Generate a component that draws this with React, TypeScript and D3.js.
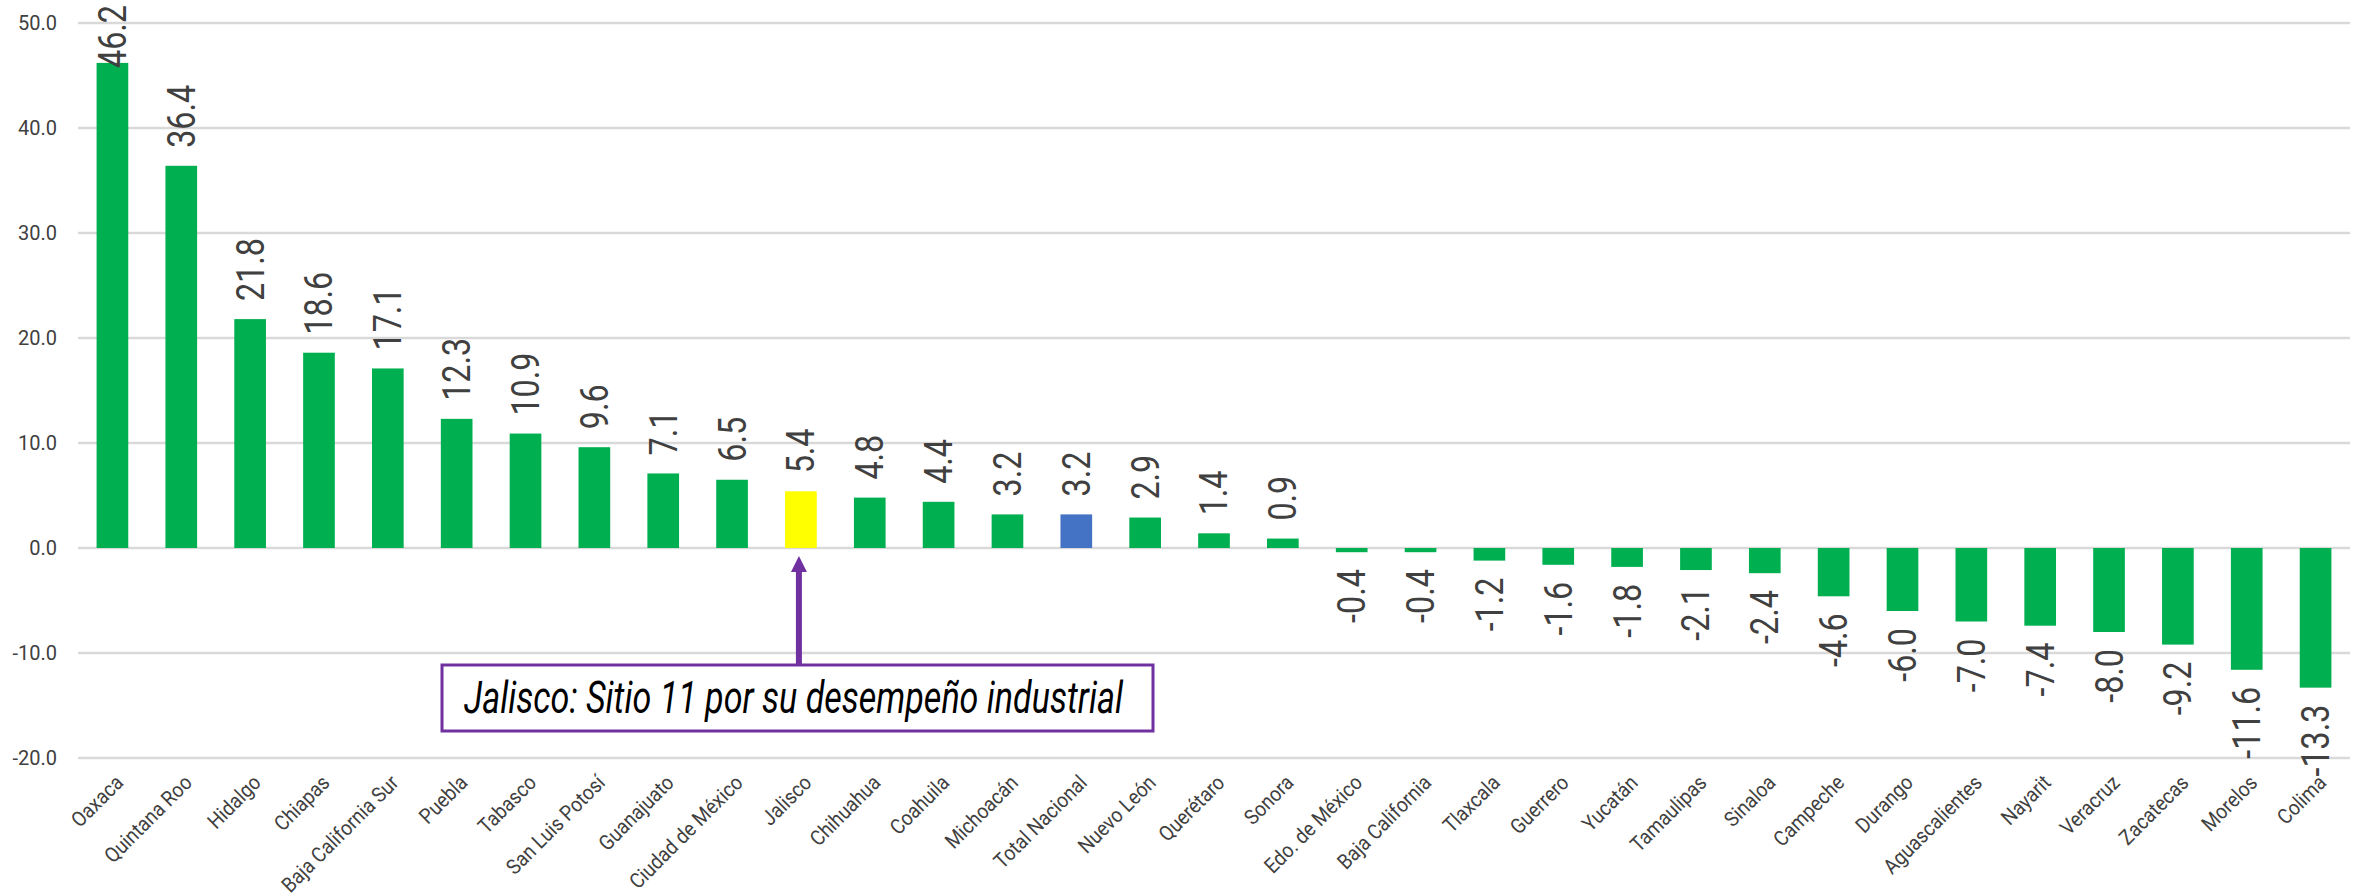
import React, { useEffect } from "react";
import * as d3 from "d3";

const categories: string[] = [
  "Oaxaca", "Quintana Roo", "Hidalgo", "Chiapas", "Baja California Sur", "Puebla",
  "Tabasco", "San Luis Potosí", "Guanajuato", "Ciudad de México", "Jalisco",
  "Chihuahua", "Coahuila", "Michoacán", "Total Nacional", "Nuevo León", "Querétaro",
  "Sonora", "Edo. de México", "Baja California", "Tlaxcala", "Guerrero", "Yucatán",
  "Tamaulipas", "Sinaloa", "Campeche", "Durango", "Aguascalientes", "Nayarit",
  "Veracruz", "Zacatecas", "Morelos", "Colima",
];

const values: number[] = [
  46.2, 36.4, 21.8, 18.6, 17.1, 12.3, 10.9, 9.6, 7.1, 6.5, 5.4, 4.8, 4.4, 3.2, 3.2,
  2.9, 1.4, 0.9, -0.4, -0.4, -1.2, -1.6, -1.8, -2.1, -2.4, -4.6, -6.0, -7.0, -7.4,
  -8.0, -9.2, -11.6, -13.3,
];

const yTicks: number[] = [-20, -10, 0, 10, 20, 30, 40, 50];

const highlightState = "Jalisco";
const nationalTotal = "Total Nacional";
const annotationText = "Jalisco: Sitio 11 por su desempeño industrial";

const W = 2364;
const H = 896;
const GREEN = "#00b050";
const YELLOW = "#ffff00";
const BLUE = "#4472c4";
const PURPLE = "#7030a0";
const TEXT = "#404040";

const fmt = (v: number) => v.toFixed(1);

export default function App() {
  useEffect(() => {
    document.body.style.margin = "0";
  }, []);

  const x = d3
    .scaleBand<string>()
    .domain(categories)
    .range([78, 2350])
    .paddingInner(0.54)
    .paddingOuter(0.27);
  const y = d3.scaleLinear().domain([-20, 50]).range([758, 23]);
  const bw = x.bandwidth();

  const labelFs = 38;
  const labelScale = 0.85;
  const plotTop = 5;

  const colorOf = (c: string) =>
    c === highlightState ? YELLOW : c === nationalTotal ? BLUE : GREEN;

  const jx = (x(highlightState) ?? 0) + bw / 2;
  const arrowTip = y(0) + 8;
  const boxX0 = 442;
  const boxX1 = 1153;
  const boxY0 = 665;
  const boxY1 = 731;

  return (
    <svg
      width={W}
      height={H}
      style={{ position: "absolute", left: 0, top: 0, display: "block", background: "#fff" }}
      fontFamily="Roboto, 'Noto Sans', sans-serif"
    >
      <rect x={0} y={0} width={W} height={H} fill="#fff" />
      {/* gridlines */}
      {yTicks.map((t) => (
        <line
          key={"g" + t}
          x1={78}
          x2={2350}
          y1={y(t)}
          y2={y(t)}
          stroke="#d9d9d9"
          strokeWidth={2.5}
        />
      ))}
      {/* y tick labels */}
      {yTicks.map((t) => (
        <text
          key={"t" + t}
          x={57}
          y={y(t) + 7}
          textAnchor="end"
          fontSize={20}
          fill={TEXT}
        >
          {fmt(t)}
        </text>
      ))}
      {/* bars */}
      {categories.map((c, i) => {
        const v = values[i];
        const x0 = x(c) ?? 0;
        return (
          <rect
            key={"b" + c}
            x={x0}
            y={Math.min(y(v), y(0))}
            width={bw}
            height={Math.abs(y(v) - y(0))}
            fill={colorOf(c)}
          />
        );
      })}
      {/* data labels */}
      {categories.map((c, i) => {
        const v = values[i];
        const cx = (x(c) ?? 0) + bw / 2 + labelFs * 0.355;
        const txt = fmt(v);
        const est = txt.length * 16;
        let ly: number;
        let anchor: "start" | "end";
        if (v >= 0) {
          ly = y(v) - 18;
          anchor = "start";
          if (ly - est < plotTop) {
            ly = plotTop;
            anchor = "end";
          }
        } else {
          ly = y(v) + 17;
          anchor = "end";
        }
        return (
          <text
            key={"l" + c}
            transform={`translate(${cx},${ly}) rotate(-90) scale(${labelScale},1)`}
            textAnchor={anchor}
            fontSize={labelFs}
            fill={TEXT}
          >
            {txt}
          </text>
        );
      })}
      {/* x axis labels */}
      {categories.map((c) => {
        const cx = (x(c) ?? 0) + bw / 2 + 12;
        return (
          <text
            key={"x" + c}
            transform={`translate(${cx},${784}) rotate(-45) scale(0.9,1)`}
            textAnchor="end"
            fontSize={21}
            fill={TEXT}
          >
            {c}
          </text>
        );
      })}
      {/* annotation arrow */}
      <line x1={jx - 2} x2={jx - 2} y1={arrowTip + 14} y2={boxY0} stroke={PURPLE} strokeWidth={6} />
      <path
        d={`M${jx - 2},${arrowTip} L${jx - 10},${arrowTip + 16} L${jx + 6},${arrowTip + 16} Z`}
        fill={PURPLE}
      />
      <rect
        x={boxX0}
        y={boxY0}
        width={boxX1 - boxX0}
        height={boxY1 - boxY0}
        fill="#fff"
        stroke={PURPLE}
        strokeWidth={3}
      />
      <text
        x={464}
        y={713}
        fontSize={44}
        fontStyle="italic"
        fill="#000"
        textLength={659}
        lengthAdjust="spacingAndGlyphs"
      >
        {annotationText}
      </text>
    </svg>
  );
}
